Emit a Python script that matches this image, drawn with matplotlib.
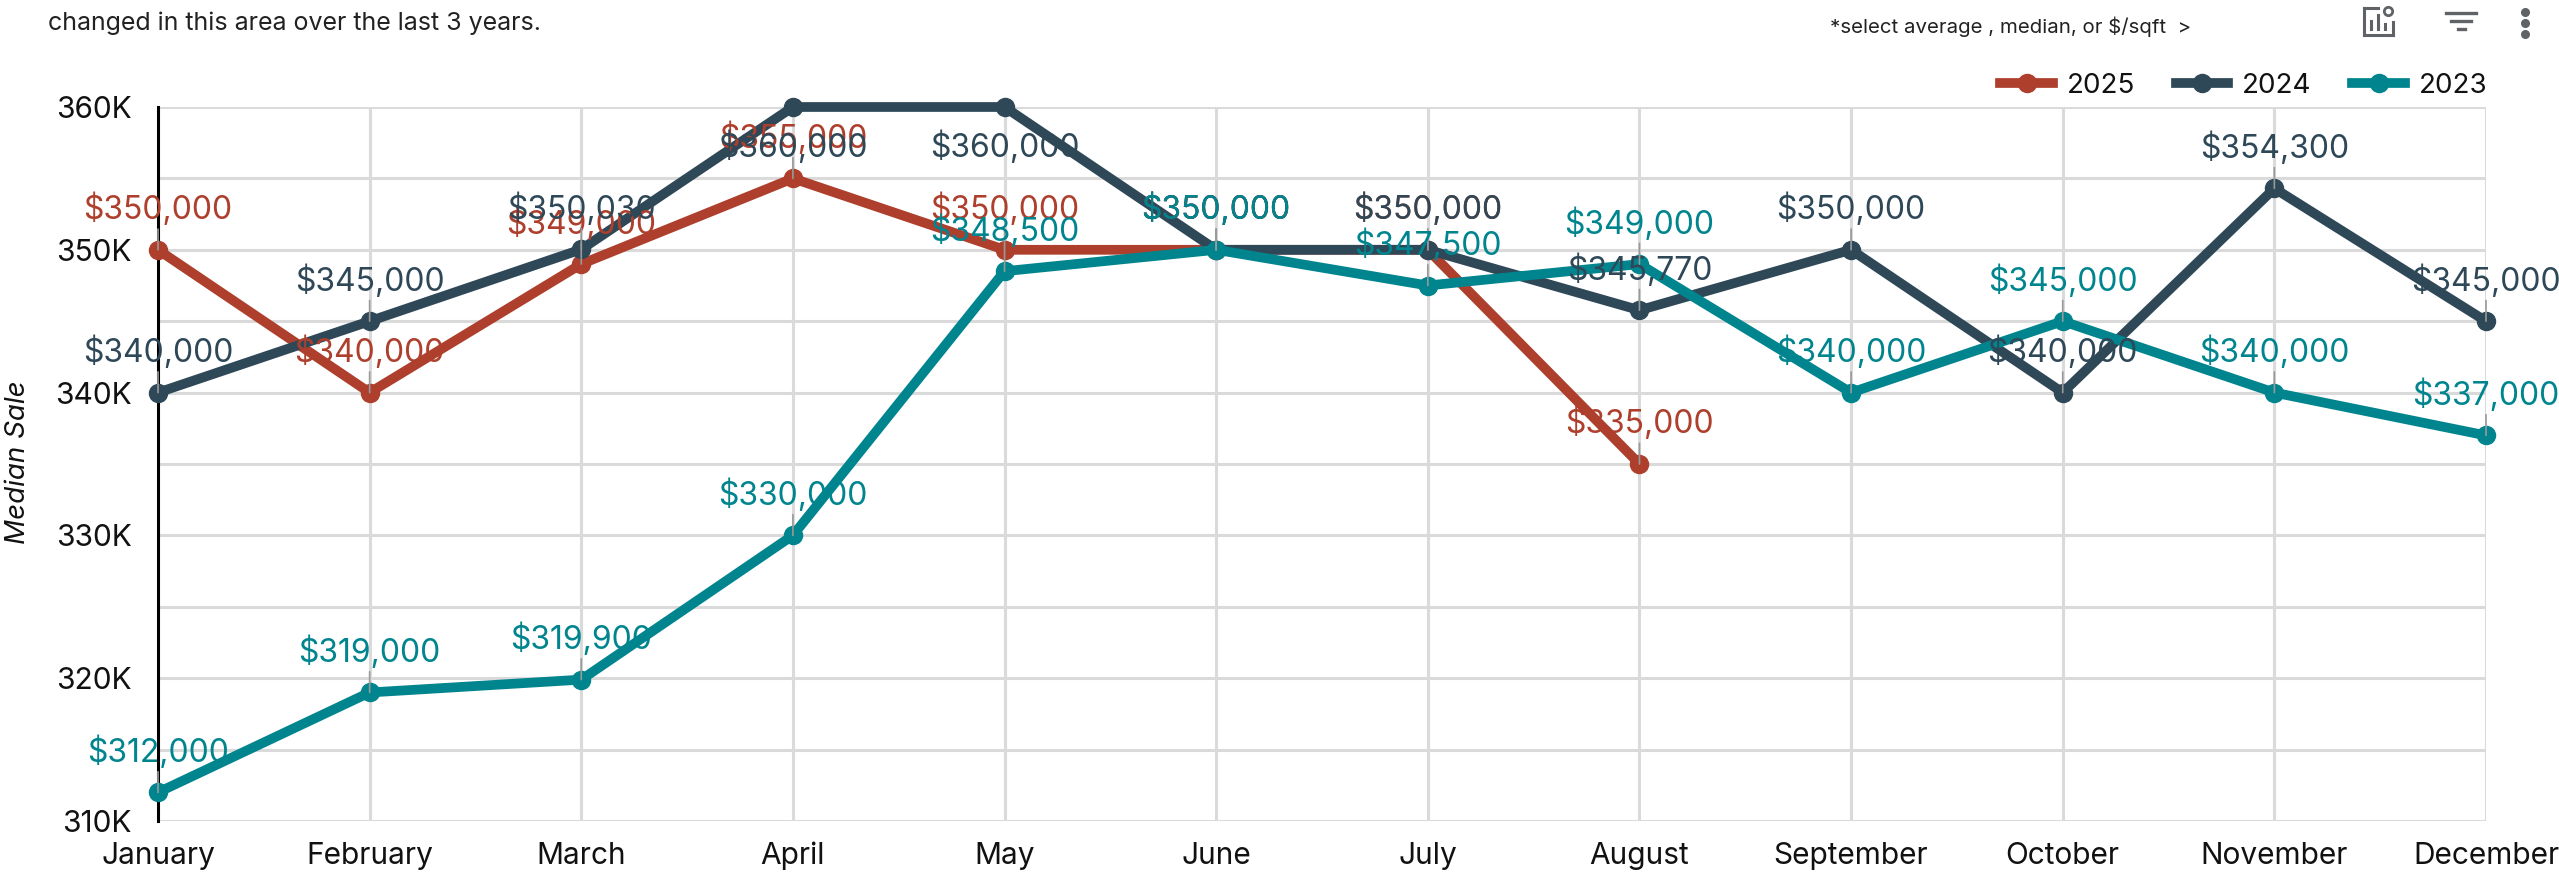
import matplotlib
matplotlib.use("Agg")
import matplotlib.pyplot as plt
from matplotlib.lines import Line2D

months = ["January", "February", "March", "April", "May", "June", "July",
          "August", "September", "October", "November", "December"]
sale_2025 = [350000, 340000, 349000, 355000, 350000, 350000, 350000, 335000]
sale_2024 = [340000, 345000, 350030, 360000, 360000, 350000, 350000, 345770,
             350000, 340000, 354300, 345000]
sale_2023 = [312000, 319000, 319900, 330000, 348500, 350000, 347500, 349000,
             340000, 345000, 340000, 337000]
y_ticks = [310000, 320000, 330000, 340000, 350000, 360000]
y_grid = [315000, 325000, 335000, 345000, 355000]
y_tick_labels = ["310K", "320K", "330K", "340K", "350K", "360K"]

RED = "#ae3f2d"
NAVY = "#2f4858"
TEAL = "#00858f"
FONT = "Inter"

plt.rcParams["font.family"] = [FONT, "DejaVu Sans"]

W, H = 2559, 876
fig = plt.figure(figsize=(W / 100, H / 100), dpi=100)
ax = fig.add_axes([158 / W, 1 - 821 / H, (2486 - 158) / W, (821 - 107) / H])
ax.set_xlim(0, 11)
ax.set_ylim(310000, 360000)

# rejilla
ax.set_yticks(y_ticks)
ax.set_yticklabels(y_tick_labels, fontsize=21.5, color="#111111")
ax.set_yticks(y_grid, minor=True)
ax.set_xticks(range(12))
ax.set_xticklabels(months, fontsize=21.5, color="#111111")
ax.tick_params(which="both", length=0)
ax.tick_params(axis="x", pad=15)
ax.tick_params(axis="y", pad=19)
ax.grid(True, which="both", color="#dadada", linewidth=2.2)
ax.set_axisbelow(True)
for lado in ["top", "right", "bottom"]:
    ax.spines[lado].set_visible(False)
ax.spines["left"].set_color("black")
ax.spines["left"].set_linewidth(2.2)
ax.spines["left"].set_zorder(2.5)


def dibuja_serie(valores, color, orden, abajo=()):
    x = list(range(len(valores)))
    ax.plot(x, valores, color=color, linewidth=7, marker="o", markersize=13,
            solid_capstyle="round", zorder=orden, clip_on=False)
    for i, v in zip(x, valores):
        texto = "${:,}".format(v)
        if i in abajo:
            ax.annotate(texto, (i, v), xytext=(0, -29), textcoords="offset points",
                        ha="center", va="center", fontsize=23, color=color,
                        zorder=orden + 5, annotation_clip=False)
        else:
            ax.annotate(texto, (i, v), xytext=(0, 29), textcoords="offset points",
                        ha="center", va="center", fontsize=23, color=color,
                        zorder=orden + 5, annotation_clip=False,
                        arrowprops=dict(arrowstyle="-", color="#999999", lw=1.2,
                                        shrinkA=0, shrinkB=0, relpos=(0.5, 0)))


dibuja_serie(sale_2025, RED, 3)
dibuja_serie(sale_2024, NAVY, 4, abajo=(3, 4))
dibuja_serie(sale_2023, TEAL, 5)

fig.text(18 / W, 1 - 462 / H, "Median Sale", fontsize=20, style="italic",
         color="#111111", rotation=90, ha="center", va="center")

handles = [Line2D([], [], color=c, linewidth=7, marker="o", markersize=13)
           for c in [RED, NAVY, TEAL]]
ax.legend(handles, ["2025", "2024", "2023"], ncol=3, loc="lower right",
          bbox_to_anchor=(1.003, 1.004), frameon=False, fontsize=20, handlelength=1.9,
          handletextpad=0.5, columnspacing=1.45, borderaxespad=0, borderpad=0.2,
          labelcolor="#111111")

fig.text(48 / W, 1 - 23 / H, "changed in this area over the last 3 years.",
         fontsize=18, color="#222222", va="center", ha="left")
fig.text(1830 / W, 1 - 27 / H, "*select average , median, or $/sqft  >",
         fontsize=14.7, color="#222222", va="center", ha="left")

# iconos de la barra superior
ICON = "#5f6368"
for x0, y0, x1, y1 in [(2364, 8, 2364, 35), (2364, 35, 2393, 35), (2393, 35, 2393, 22),
                       (2364, 8, 2378, 8), (2371, 29, 2371, 21), (2378, 29, 2378, 15),
                       (2385, 29, 2385, 24)]:
    fig.add_artist(Line2D([x0 / W, x1 / W], [1 - y0 / H, 1 - y1 / H], color=ICON,
                          linewidth=2.2, transform=fig.transFigure))
fig.add_artist(Line2D([2388 / W], [1 - 11 / H], color=ICON, marker="o", markersize=6,
                      markerfacecolor="none", markeredgewidth=2,
                      transform=fig.transFigure))
for x0, x1, y0 in [(2446, 2476, 13), (2451, 2471, 21), (2458, 2465, 29)]:
    fig.add_artist(Line2D([x0 / W, x1 / W], [1 - y0 / H, 1 - y0 / H], color=ICON,
                          linewidth=2.4, transform=fig.transFigure))
for y0 in [12, 23, 34]:
    fig.add_artist(Line2D([2525 / W], [1 - y0 / H], color=ICON, marker="o", markersize=5.5,
                          transform=fig.transFigure))

fig.savefig("out.png", dpi=100)
